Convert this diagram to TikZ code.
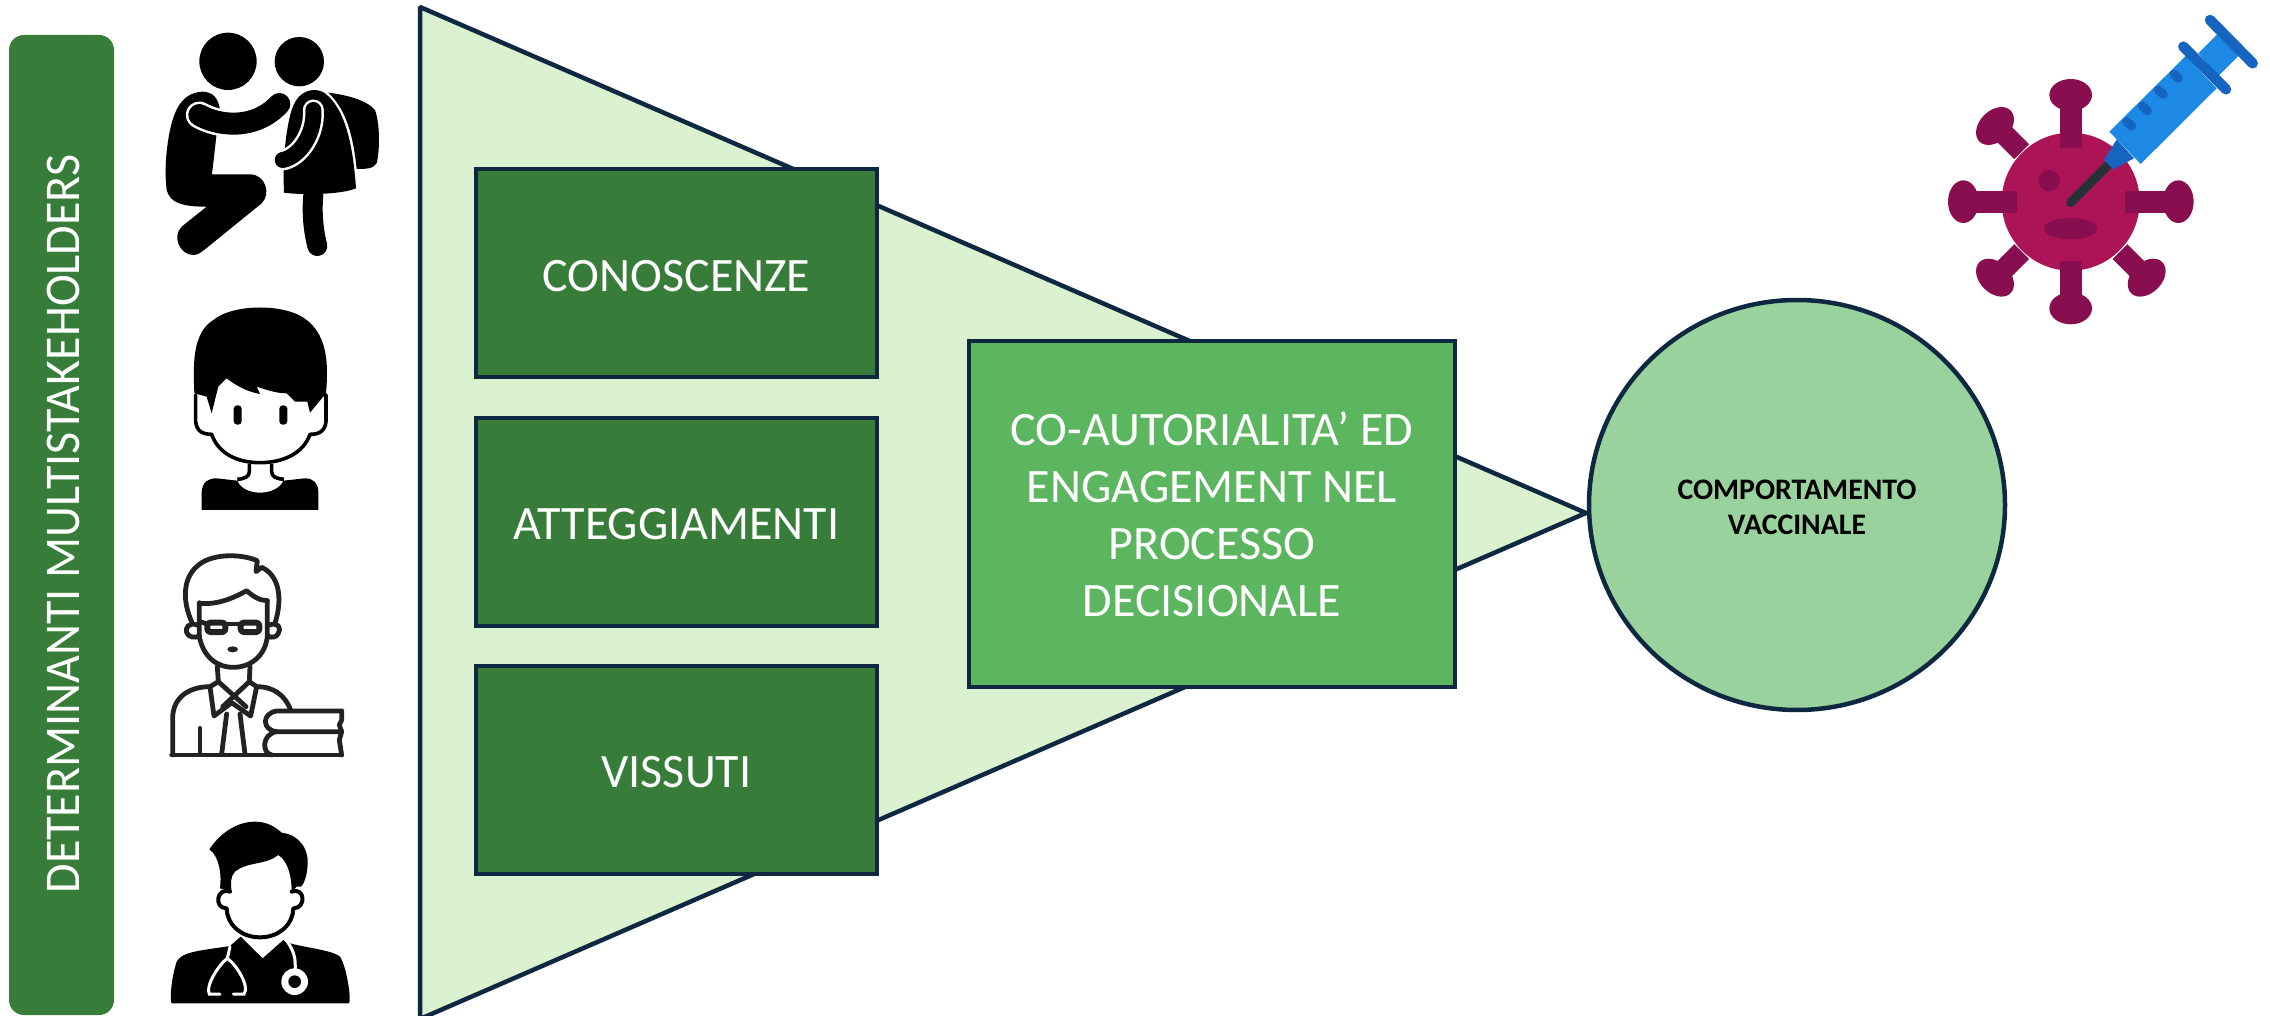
\documentclass[tikz,border=0pt]{standalone}
\usepackage{fontspec}
\setmainfont{Carlito}
\usetikzlibrary{shapes.geometric}
\definecolor{darkgreen}{HTML}{387C3A}
\definecolor{midgreen}{HTML}{5CB660}
\definecolor{palegreen}{HTML}{DAF2D0}
\definecolor{softgreen}{HTML}{99D29C}
\definecolor{navyline}{HTML}{0E2841}
\definecolor{virusbody}{HTML}{AD1457}
\definecolor{virusdark}{HTML}{880E4F}
\definecolor{syrblue}{HTML}{1E88E5}
\definecolor{syrdark}{HTML}{1565C0}
\definecolor{needle}{HTML}{263238}
\definecolor{iconline}{HTML}{222222}
\newcommand{\lowered}[2]{\raisebox{-#1pt}[31pt][0pt]{#2}}
\tikzset{
  bigtext/.style={font=\fontsize{48}{57}\selectfont,text=white,align=center},
  factorbox/.style={draw=navyline,line width=4.5pt,fill=darkgreen,minimum width=401pt,minimum height=208pt,inner sep=0pt,bigtext},
  mergebox/.style={draw=navyline,line width=4.5pt,fill=midgreen,minimum width=486pt,minimum height=346pt,inner sep=0pt,bigtext},
  outcome/.style={ellipse,draw=navyline,line width=4.5pt,fill=softgreen,minimum width=416pt,minimum height=410pt,inner sep=0pt,align=center,font=\fontsize{29.8}{35}\selectfont\bfseries,text=black},
  sidebar/.style={rounded corners=15pt,fill=darkgreen},
  icon/.style={fill=black,draw=none},
  thinicon/.style={draw=iconline,line width=4.8pt,line cap=round,line join=round},
  faceline/.style={draw=black,line width=3.6pt,line cap=round,line join=round,fill=white},
}
\begin{document}
\begin{tikzpicture}[x=1pt,y=-1pt]
\useasboundingbox (0,0) rectangle (2270,1016);
% funnel
\draw[navyline,line width=4.5pt,fill=palegreen,line join=bevel] (420,7) -- (1586,513) -- (420,1019) -- cycle;
% side bar
\fill[sidebar] (9,35) rectangle (114,1015);
\node[rotate=90,text=white,font=\fontsize{50}{60}\selectfont,inner sep=0pt] (barlabel) at (63,524) {\scalebox{0.96}[1]{DETERMINANTI MULTISTAKEHOLDERS}};
% boxes
\node[factorbox] (conoscenze) at (676.5,273) {\lowered{2.5}{CONOSCENZE}};
\node[factorbox] (atteggiamenti) at (676.5,522) {\lowered{1.5}{ATTEGGIAMENTI}};
\node[factorbox] (vissuti) at (676.5,770) {\lowered{1.5}{VISSUTI}};
\node[mergebox] (coaut) at (1212,514) {\rule{0pt}{35pt}CO-AUTORIALITA’ ED\\ENGAGEMENT NEL\\PROCESSO\\DECISIONALE};
\node[outcome] (comp) at (1797,505) {\rule{0pt}{24pt}COMPORTAMENTO\\VACCINALE};
% icon 1: adult and child
\begin{scope}[scale=1/3]
\fill[icon] (684,184) circle [radius=86];
\fill[icon] (898,185) circle [radius=74];
\fill[icon] (605,275) .. controls (540,280) and (520,340) .. (508,400) .. controls (495,470) and (495,530) .. (500,570) .. controls (510,610) and (550,620) .. (620,620) -- (545,680) .. controls (515,710) and (540,765) .. (580,765) .. controls (595,765) and (605,755) .. (615,748) -- (785,610) .. controls (815,580) and (795,523) .. (750,523) -- (636,523) -- (650,400) -- (660,330) .. controls (655,295) and (640,275) .. (605,275) -- cycle;
\draw[white,line width=27pt,line cap=round] (598,345) .. controls (650,375) and (760,395) .. (838,312);
\draw[black,line width=22pt,line cap=round] (598,345) .. controls (650,375) and (760,395) .. (838,312);
% child
\fill[icon] (940,270) .. controls (880,275) and (870,340) .. (860,400) .. controls (850,470) and (850,530) .. (852,578) .. controls (900,585) and (1020,585) .. (1068,565) .. controls (1060,450) and (1040,330) .. (975,280) .. controls (965,272) and (950,270) .. (940,270) -- cycle;
\fill[icon] (985,278) .. controls (1040,285) and (1100,300) .. (1125,330) .. controls (1140,370) and (1140,450) .. (1130,490) .. controls (1120,507) and (1095,507) .. (1070,507) .. controls (1060,410) and (1040,330) .. (985,278) -- cycle;
\draw[black,line width=20pt,line cap=round] (940,585) .. controls (935,640) and (940,690) .. (952,738);
\draw[white,line width=21pt,line cap=round] (940,330) .. controls (945,400) and (900,470) .. (848,480);
\draw[black,line width=16pt,line cap=round] (940,330) .. controls (945,400) and (900,470) .. (848,480);
% icon 2: boy
\draw[faceline] (587,1185) -- (587,1265) .. controls (590,1295) and (610,1303) .. (635,1303) .. controls (655,1360) and (710,1388) .. (780,1388) .. controls (850,1388) and (910,1360) .. (930,1303) .. controls (955,1303) and (975,1295) .. (978,1265) -- (978,1185);
\fill[icon] (583,1180) .. controls (580,1100) and (575,1000) .. (640,960) .. controls (700,910) and (860,910) .. (920,960) .. controls (985,1010) and (985,1100) .. (978,1180) -- (930,1238) -- (922,1205) -- (885,1205) -- (860,1180) .. controls (830,1180) and (800,1170) .. (770,1160) -- (780,1182) .. controls (740,1175) and (705,1155) .. (680,1135) -- (655,1160) -- (635,1240) -- (620,1190) -- cycle;
\fill[icon,rounded corners=3.5pt] (701,1216) rectangle (725,1274);
\fill[icon,rounded corners=3.5pt] (838,1216) rectangle (862,1274);
\draw[black,line width=3.6pt] (748,1392) -- (748,1415) .. controls (748,1430) and (735,1436) .. (712,1438);
\draw[black,line width=3.6pt] (815,1392) -- (815,1415) .. controls (815,1430) and (828,1436) .. (852,1438);
\fill[icon] (605,1530) -- (605,1475) .. controls (608,1445) and (625,1435) .. (650,1435) -- (712,1442) .. controls (730,1490) and (830,1490) .. (850,1442) -- (915,1435) .. controls (940,1435) and (955,1450) .. (955,1475) -- (955,1530) -- cycle;
\end{scope}
% icon 3: teacher
\begin{scope}[yshift=-510pt,scale=1/3]
\draw[thinicon] (575,335) .. controls (550,280) and (545,210) .. (590,170) .. controls (630,130) and (720,130) .. (772,152) -- (768,185) -- (785,172) .. controls (835,195) and (850,260) .. (825,340);
\draw[thinicon] (600,280) .. controls (650,285) and (700,265) .. (740,242) .. controls (760,260) and (780,272) .. (802,272);
\draw[thinicon] (598,278) -- (598,380) .. controls (610,440) and (650,472) .. (700,472) .. controls (750,472) and (795,440) .. (802,380) -- (802,272);
\draw[thinicon] (592,345) .. controls (565,335) and (555,355) .. (560,368) .. controls (565,382) and (585,385) .. (598,378);
\draw[thinicon] (808,345) .. controls (835,335) and (845,355) .. (835,370) .. controls (830,382) and (815,385) .. (804,378);
\draw[thinicon,line width=6pt,rounded corners=3pt] (622,338) rectangle (676,366);
\draw[thinicon,line width=6pt,rounded corners=3pt] (722,338) rectangle (778,366);
\draw[thinicon] (676,342) -- (722,342);
\draw[thinicon] (600,335) -- (622,342);
\fill[iconline] (698,418) ellipse [x radius=16,y radius=9];
\draw[thinicon] (652,470) -- (655,515) -- (630,530) -- (642,618) -- (695,578) -- (752,618) -- (770,530) -- (748,515) -- (750,470);
\draw[thinicon] (655,515) -- (738,590);
\draw[thinicon] (748,515) -- (668,590);
\draw[thinicon] (680,612) -- (665,732);
\draw[thinicon] (720,612) -- (735,732);
\draw[thinicon] (630,530) .. controls (570,530) and (518,560) .. (518,625) -- (518,735);
\draw[thinicon] (770,530) .. controls (820,530) and (855,555) .. (872,600);
\draw[thinicon] (600,655) -- (600,730);
\draw[thinicon] (515,735) -- (1025,735);
\draw[thinicon] (1025,603) -- (830,603) .. controls (785,610) and (785,660) .. (830,665) -- (1025,665);
\draw[thinicon] (830,665) .. controls (785,672) and (785,730) .. (815,735);
\draw[thinicon] (1025,603) -- (1025,630) -- (1018,645) -- (1025,665) -- (1018,690) -- (1025,735);
\end{scope}
% icon 4: doctor
\begin{scope}[yshift=-510pt,scale=1/3]
\fill[icon] (515,1480) .. controls (508,1470) and (515,1400) .. (530,1355) .. controls (545,1325) and (600,1322) .. (690,1308) -- (722,1280) -- (788,1345) -- (850,1290) .. controls (870,1310) and (990,1315) .. (1020,1340) .. controls (1040,1370) and (1055,1470) .. (1047,1480) -- cycle;
\draw[faceline,line width=4pt] (690,1145) .. controls (650,1130) and (640,1195) .. (680,1195) .. controls (680,1240) and (720,1282) .. (780,1282) .. controls (840,1282) and (880,1240) .. (880,1195) .. controls (920,1195) and (915,1130) .. (875,1145);
\fill[icon] (628,1018) .. controls (660,970) and (710,935) .. (765,935) .. controls (800,935) and (825,950) .. (845,968) .. controls (900,975) and (930,1020) .. (922,1075) .. controls (920,1100) and (910,1125) .. (903,1130) -- (890,1130) -- (875,1145) .. controls (875,1100) and (865,1055) .. (835,1035) .. controls (800,1065) and (740,1055) .. (705,1085) .. controls (690,1100) and (692,1125) .. (695,1145) -- (660,1135) .. controls (665,1100) and (660,1040) .. (628,1018) -- cycle;
\draw[white,line width=3pt,line cap=round] (690,1310) -- (682,1345) .. controls (655,1365) and (615,1430) .. (628,1452) -- (660,1452);
\draw[white,line width=3pt,line cap=round] (682,1345) .. controls (710,1365) and (750,1430) .. (732,1452) -- (700,1452);
\draw[white,line width=3pt,line cap=round] (850,1280) .. controls (885,1320) and (888,1350) .. (885,1385);
\fill[white] (884,1415) circle [radius=40];
\fill[black] (884,1415) circle [radius=19];
\end{scope}
% virus and syringe
\begin{scope}[xshift=1900pt,scale=1/3]
\fill[virusbody] (512,605) circle [radius=207];
\fill[virusdark] (480,300) rectangle (545,443);
\fill[virusdark] (480,782) rectangle (545,905);
\fill[virusdark] (225,574) rectangle (352,638);
\fill[virusdark] (675,574) rectangle (800,638);
\fill[virusdark] (512,285) ellipse [x radius=64,y radius=48];
\fill[virusdark] (512,925) ellipse [x radius=64,y radius=48];
\fill[virusdark] (190,605) ellipse [x radius=46,y radius=64];
\fill[virusdark] (835,605) ellipse [x radius=46,y radius=64];
\draw[virusdark,line width=21pt] (365,455) -- (290,380);
\draw[virusdark,line width=21pt] (365,755) -- (290,830);
\draw[virusdark,line width=21pt] (660,755) -- (735,830);
\fill[virusdark,shift={(285,378)},rotate=45] (0,0) ellipse [x radius=66,y radius=46];
\fill[virusdark,shift={(285,833)},rotate=-45] (0,0) ellipse [x radius=66,y radius=46];
\fill[virusdark,shift={(740,833)},rotate=45] (0,0) ellipse [x radius=66,y radius=46];
\fill[virusdark] (448,542) circle [radius=32];
\fill[virusdark] (512,686) ellipse [x radius=80,y radius=32];
\draw[needle,line width=9pt,line cap=round] (628,492) -- (512,608);
\fill[syrdark] (650,418) -- (702,475) -- (640,508) -- (612,480) -- cycle;
\fill[syrblue] (628,395) -- (857,168) -- (950,265) -- (722,492) -- cycle;
\fill[syrblue] (895,160) -- (955,100) -- (1018,165) -- (955,228) -- cycle;
\draw[syrdark,line width=10.5pt,line cap=round] (850,140) -- (978,268);
\draw[syrdark,line width=10.5pt,line cap=round] (930,60) -- (1058,190);
\draw[syrdark,line width=9pt,line cap=round] (680,365) -- (695,378);
\draw[syrdark,line width=9pt,line cap=round] (727,318) -- (742,332);
\draw[syrdark,line width=9pt,line cap=round] (775,270) -- (790,283);
\draw[syrdark,line width=9pt,line cap=round] (822,222) -- (835,235);
\end{scope}
\end{tikzpicture}
\end{document}
